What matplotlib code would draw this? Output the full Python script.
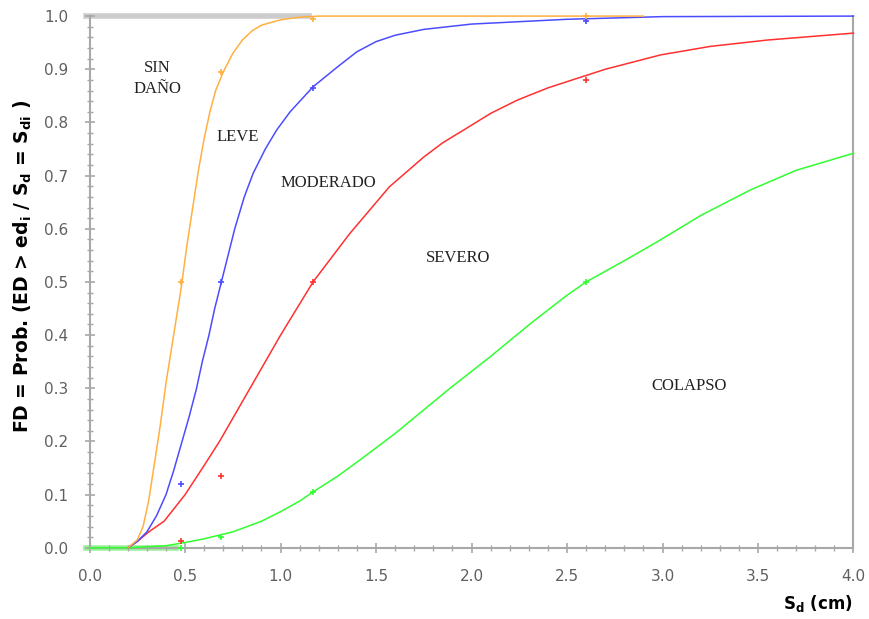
import numpy as np
import matplotlib.pyplot as plt
from matplotlib.ticker import MultipleLocator

# curves (Sd in cm, probability)
sd_sin = [0.2, 0.25, 0.28, 0.31, 0.34, 0.37, 0.40, 0.44, 0.48, 0.51, 0.54, 0.57, 0.60,
          0.63, 0.66, 0.70, 0.75, 0.80, 0.85, 0.9, 1.0, 1.1, 1.2, 1.5, 2.0, 2.9]
p_sin = [0.0, 0.015, 0.04, 0.09, 0.16, 0.23, 0.31, 0.40, 0.49, 0.57, 0.64, 0.71, 0.77,
         0.82, 0.86, 0.895, 0.93, 0.955, 0.972, 0.983, 0.993, 0.998, 1.0, 1.0, 1.0, 1.0]

sd_leve = [0.2, 0.25, 0.3, 0.35, 0.4, 0.44, 0.48, 0.52, 0.56, 0.59, 0.625, 0.655, 0.69,
           0.725, 0.76, 0.81, 0.856, 0.92, 0.98, 1.05, 1.17, 1.3, 1.4, 1.5, 1.6, 1.75,
           2.0, 2.5, 3.0, 4.0]
p_leve = [0.0, 0.012, 0.03, 0.06, 0.1, 0.145, 0.195, 0.245, 0.3, 0.35, 0.4, 0.45, 0.5,
          0.55, 0.6, 0.66, 0.704, 0.75, 0.786, 0.82, 0.867, 0.905, 0.933, 0.952, 0.964,
          0.975, 0.985, 0.994, 0.999, 1.0]

sd_mod = [0.2, 0.25, 0.31, 0.39, 0.5, 0.6, 0.68, 0.76, 0.84, 0.92, 1.0, 1.085, 1.17,
          1.36, 1.57, 1.75, 1.85, 1.96, 2.1, 2.24, 2.4, 2.7, 2.99, 3.25, 3.55, 4.0]
p_mod = [0.0, 0.012, 0.03, 0.05, 0.1, 0.155, 0.2, 0.25, 0.3, 0.35, 0.4, 0.45, 0.5,
         0.59, 0.679, 0.735, 0.762, 0.786, 0.817, 0.842, 0.865, 0.9, 0.927, 0.943, 0.955,
         0.968]

sd_col = [0.0, 0.2, 0.4, 0.5, 0.6, 0.75, 0.9, 1.0, 1.1, 1.17, 1.3, 1.415, 1.6, 1.887,
          2.1, 2.32, 2.5, 2.6, 2.8, 2.97, 3.2, 3.46, 3.7, 4.0]
p_col = [0.0, 0.0, 0.004, 0.01, 0.017, 0.03, 0.05, 0.068, 0.088, 0.105, 0.135, 0.165,
         0.215, 0.3, 0.36, 0.425, 0.475, 0.5, 0.54, 0.575, 0.625, 0.673, 0.71, 0.742]

# discrete points
sd_pts = [0.48, 0.69, 1.17, 2.6]
pts_sin = [0.5, 0.895, 0.995, 1.0]
pts_leve = [0.12, 0.5, 0.865, 0.99]
pts_mod = [0.012, 0.135, 0.5, 0.88]
pts_col = [0.0, 0.02, 0.105, 0.5]

labels = ["SIN\nDAÑO", "LEVE", "MODERADO", "SEVERO", "COLAPSO"]
label_pos = [(0.356, 0.883), (0.776, 0.773), (1.25, 0.686), (1.93, 0.545), (3.14, 0.305)]

c_sin = '#ffb040'
c_leve = '#4c4cff'
c_mod = '#ff3030'
c_col = '#30ff30'
gray = '#a8a8a8'

fig = plt.figure(figsize=(8.7, 6.19), dpi=100)
ax = fig.add_axes([0.103, 0.115, 0.878, 0.859])

# light bands at the bounds
ax.plot([-0.02, 1.15], [1.0, 1.0], color='#cccccc', lw=4, zorder=1, clip_on=False)
ax.plot([-0.02, 0.45], [0.0, 0.0], color='#9cf09c', lw=4, zorder=1, clip_on=False)

ax.plot(sd_col, p_col, color=c_col, lw=1.1, zorder=3, clip_on=False)
ax.plot(sd_mod, p_mod, color=c_mod, lw=1.1, zorder=3, clip_on=False)
ax.plot(sd_leve, p_leve, color=c_leve, lw=1.1, zorder=3, clip_on=False)
ax.plot(sd_sin, p_sin, color=c_sin, lw=1.1, zorder=3, clip_on=False)

ax.plot(sd_pts, pts_col, '+', color=c_col, ms=4, mew=1.2, zorder=4, clip_on=False)
ax.plot(sd_pts, pts_mod, '+', color=c_mod, ms=4, mew=1.2, zorder=4, clip_on=False)
ax.plot(sd_pts, pts_leve, '+', color=c_leve, ms=4, mew=1.2, zorder=4, clip_on=False)
ax.plot(sd_pts, pts_sin, '+', color=c_sin, ms=4, mew=1.2, zorder=4, clip_on=False)

for txt, (x, y) in zip(labels, label_pos):
    ax.text(x, y, txt, family='Liberation Serif', fontsize=12, ha='center',
            va='center', color='#222222', linespacing=1.4)

ax.set_xlim(0, 4.0)
ax.set_ylim(0, 1.0)
ax.xaxis.set_major_locator(MultipleLocator(0.5))
ax.xaxis.set_minor_locator(MultipleLocator(0.1))
ax.yaxis.set_major_locator(MultipleLocator(0.1))
ax.yaxis.set_minor_locator(MultipleLocator(0.02))
ax.xaxis.set_major_formatter(plt.FormatStrFormatter('%.1f'))
ax.yaxis.set_major_formatter(plt.FormatStrFormatter('%.1f'))

for s in ax.spines.values():
    s.set_color(gray)
    s.set_linewidth(1.5)
ax.spines['top'].set_visible(False)

ax.tick_params(which='major', direction='inout', length=7, width=1.2, color=gray,
               labelsize=11, labelcolor='#606060', pad=12)
ax.tick_params(which='minor', direction='inout', length=4, width=1, color=gray)

fig.text(0.026, 0.570,
         r'FD = Prob. (ED > ed$_\mathregular{i}$ / S$_\mathregular{d}$ = S$_\mathregular{di}$ )',
         fontsize=13.5, fontweight='bold', rotation=90, ha='center', va='center')
fig.text(0.940, 0.025, r'S$_\mathregular{d}$ (cm)', fontsize=12, fontweight='bold',
         ha='center', va='center')

fig.savefig('out.png', dpi=100)
